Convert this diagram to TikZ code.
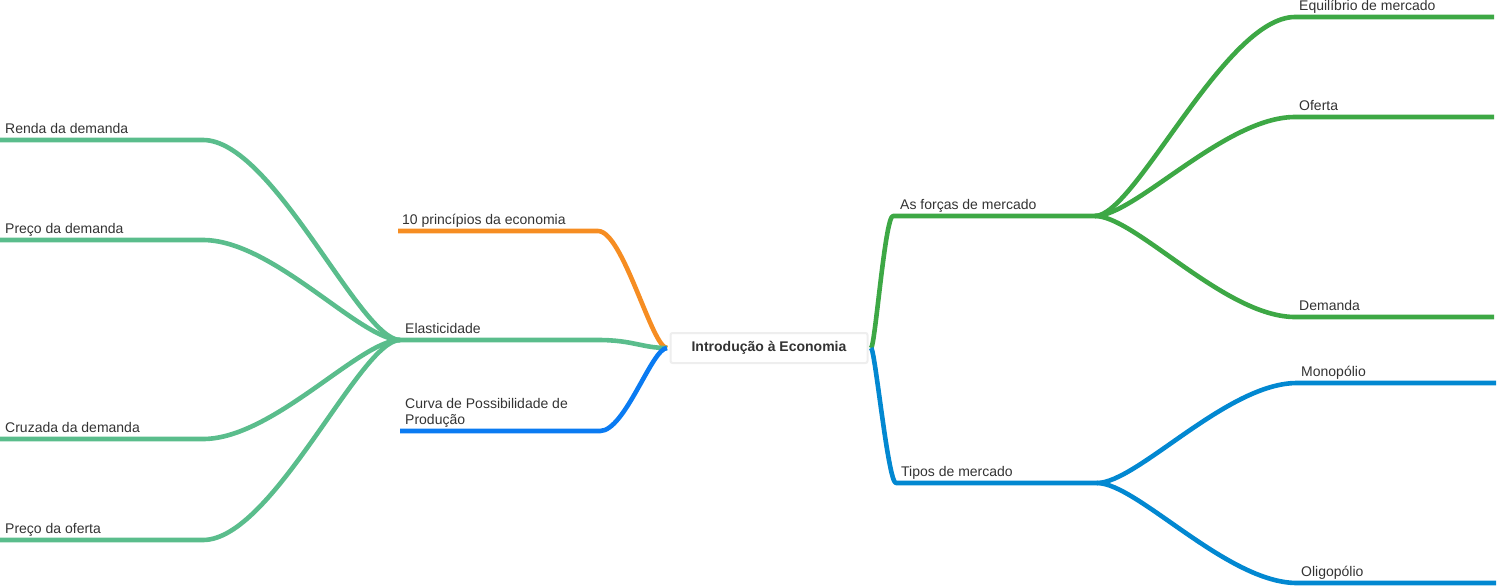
\documentclass[tikz,border=0pt]{standalone}
\usepackage{fontspec}
\setmainfont{Liberation Sans}
\definecolor{txt}{HTML}{333333}
\definecolor{corange}{HTML}{F68D22}
\definecolor{cmint}{HTML}{5ABD8C}
\definecolor{cblueL}{HTML}{0A7BF2}
\definecolor{cgreen}{HTML}{3DA845}
\definecolor{cblueR}{HTML}{0288D1}
\definecolor{boxline}{HTML}{EEEEEE}
\begin{document}
\begin{tikzpicture}[x=1pt,y=-1pt,
  br/.style={line width=4.6pt, line cap=butt, line join=round},
  lbl/.style={anchor=base west, inner sep=0pt, font=\fontsize{14}{16}\selectfont, text=txt},
  rootbox/.style={draw=boxline, line width=2pt, rounded corners=2pt, fill=white,
    minimum width=197pt, minimum height=30pt, inner sep=0pt,
    font=\fontsize{14}{16}\selectfont\bfseries, text=txt}]
\useasboundingbox (0,0) rectangle (1497,587);

% root
\node[rootbox] (root) at (769,348) {Introdução à Economia};
\coordinate (cl) at (667,348);
\coordinate (cr) at (871,348);

% left level 1
\coordinate (oS) at (598,231); \coordinate (oE) at (398,231);
\coordinate (eS) at (598,340); \coordinate (eE) at (400,340);
\coordinate (bS) at (600,431); \coordinate (bE) at (400,431);

% left level 2
\coordinate (r1S) at (203,140); \coordinate (r1E) at (0,140);
\coordinate (r2S) at (203,240); \coordinate (r2E) at (0,240);
\coordinate (r3S) at (203,439); \coordinate (r3E) at (0,439);
\coordinate (r4S) at (203,540); \coordinate (r4E) at (0,540);

% right level 1
\coordinate (fS) at (893,216); \coordinate (fE) at (1095,216);
\coordinate (tS) at (896,483); \coordinate (tE) at (1097,483);

% right level 2
\coordinate (g1S) at (1295,17);  \coordinate (g1E) at (1494,17);
\coordinate (g2S) at (1295,117); \coordinate (g2E) at (1494,117);
\coordinate (g3S) at (1295,317); \coordinate (g3E) at (1494,317);
\coordinate (m1S) at (1297,383); \coordinate (m1E) at (1496,383);
\coordinate (m2S) at (1297,583); \coordinate (m2E) at (1496,583);

% connectors
\draw[br, corange] (cl) .. controls +(-15,0) and +(25,0) .. (oS) -- (oE);
\draw[br, cmint] (cl) .. controls +(-25,0) and +(35,0) .. (eS) -- (eE);
\draw[br, cblueL] (cl) .. controls +(-15,0) and +(25,0) .. (bS) -- (bE);

\draw[br, cmint] (eE) .. controls +(-40,0) and +(70,0) .. (r1S) -- (r1E);
\draw[br, cmint] (eE) .. controls +(-40,0) and +(70,0) .. (r2S) -- (r2E);
\draw[br, cmint] (eE) .. controls +(-40,0) and +(70,0) .. (r3S) -- (r3E);
\draw[br, cmint] (eE) .. controls +(-40,0) and +(70,0) .. (r4S) -- (r4E);

\draw[br, cgreen] (cr) .. controls +(4,0) and +(-8,0) .. (fS) -- (fE);
\draw[br, cblueR] (cr) .. controls +(4,0) and +(-8,0) .. (tS) -- (tE);

\draw[br, cgreen] (fE) .. controls +(40,0) and +(-70,0) .. (g1S) -- (g1E);
\draw[br, cgreen] (fE) .. controls +(40,0) and +(-70,0) .. (g2S) -- (g2E);
\draw[br, cgreen] (fE) .. controls +(40,0) and +(-70,0) .. (g3S) -- (g3E);
\draw[br, cblueR] (tE) .. controls +(40,0) and +(-70,0) .. (m1S) -- (m1E);
\draw[br, cblueR] (tE) .. controls +(40,0) and +(-70,0) .. (m2S) -- (m2E);

% labels
\node[lbl] (lo) at (402,224) {10 princípios da economia};
\node[lbl] (le) at (405,333) {Elasticidade};
\node[lbl] (lb1) at (405,408) {Curva de Possibilidade de};
\node[lbl] (lb2) at (405,424) {Produção};

\node[lbl] (lr1) at (5,133) {Renda da demanda};
\node[lbl] (lr2) at (5,233) {Preço da demanda};
\node[lbl] (lr3) at (5,432) {Cruzada da demanda};
\node[lbl] (lr4) at (5,533) {Preço da oferta};

\node[lbl] (lf) at (900,209) {As forças de mercado};
\node[lbl] (lt) at (901,476) {Tipos de mercado};

\node[lbl] (lg1) at (1299,10) {Equilíbrio de mercado};
\node[lbl] (lg2) at (1299,110) {Oferta};
\node[lbl] (lg3) at (1299,310) {Demanda};
\node[lbl] (lm1) at (1301,376) {Monopólio};
\node[lbl] (lm2) at (1301,576) {Oligopólio};
\end{tikzpicture}
\end{document}
